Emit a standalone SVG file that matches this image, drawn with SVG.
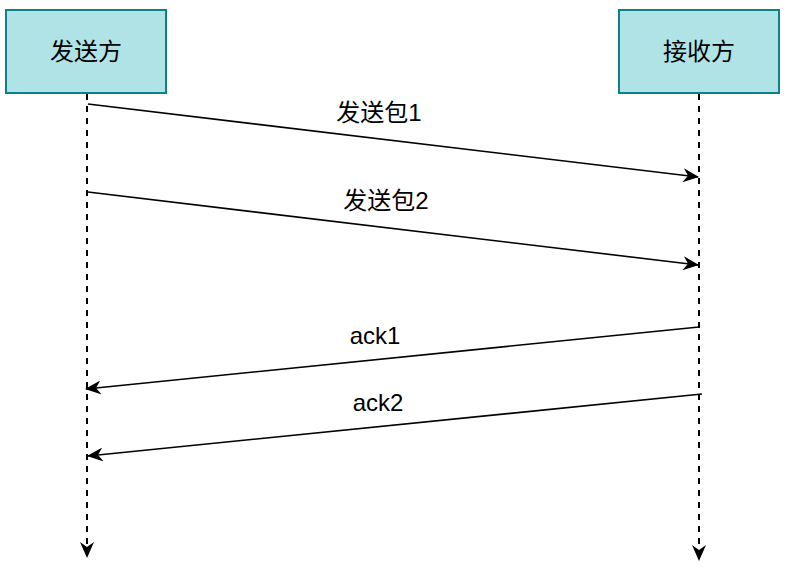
<svg xmlns="http://www.w3.org/2000/svg" width="794" height="570" viewBox="0 0 794 570">
<style>
.box{fill:#b0e3e6;stroke:#0e8088;stroke-width:2}
.lbl{font-family:"Liberation Sans","Noto Sans CJK SC",sans-serif;font-size:24px;fill:#000;text-anchor:middle}
.life{stroke:#000;stroke-width:2;stroke-dasharray:6 6;fill:none}
.msg{stroke:#000;stroke-width:1.6;fill:none}
</style>
<defs>
<marker id="arr" viewBox="0 0 16 14" refX="15" refY="7" markerWidth="16" markerHeight="14" markerUnits="userSpaceOnUse" orient="auto">
<path d="M0,0 L16,7 L0,14 L5,7 Z" fill="#000"/>
</marker>
</defs>
<rect width="794" height="570" fill="#fff"/>
<g id="sender">
<rect class="box" x="6" y="10" width="160" height="83"/>
<text class="lbl" x="86" y="60">发送方</text>
</g>
<g id="receiver">
<rect class="box" x="619" y="10" width="160" height="83"/>
<text class="lbl" x="699" y="60">接收方</text>
</g>
<g id="connectors">
<line class="life" x1="87" y1="94" x2="87" y2="557" marker-end="url(#arr)"/>
<line class="life" x1="699" y1="94" x2="699" y2="560" marker-end="url(#arr)"/>
<line class="msg" x1="88" y1="104" x2="698" y2="177" marker-end="url(#arr)"/>
<line class="msg" x1="88" y1="192" x2="698" y2="265" marker-end="url(#arr)"/>
<line class="msg" x1="699" y1="327" x2="86" y2="389" marker-end="url(#arr)"/>
<line class="msg" x1="702" y1="394" x2="88" y2="456" marker-end="url(#arr)"/>
<text class="lbl" x="379" y="121">发送包1</text>
<text class="lbl" x="386" y="209">发送包2</text>
<text class="lbl" x="375" y="344">ack1</text>
<text class="lbl" x="378" y="411">ack2</text>
</g>
</svg>
